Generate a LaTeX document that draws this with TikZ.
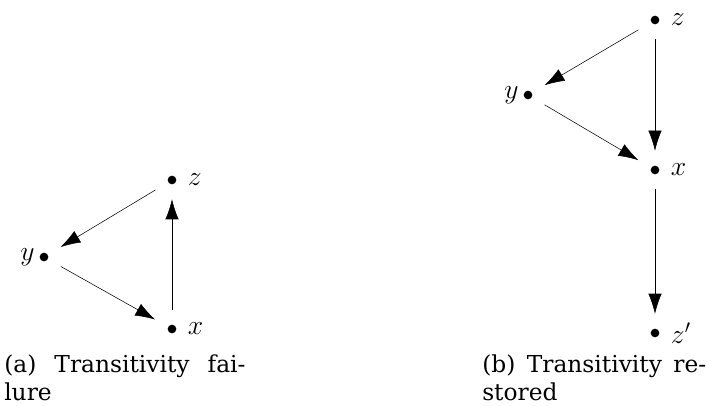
\documentclass[tikz,border=0pt]{standalone}
\usepackage{tikz}
\usetikzlibrary{arrows.meta}
\usepackage{amsmath}
\usepackage{fontspec}
\newfontfamily\captfont{DejaVu Serif}

\begin{document}
\begin{tikzpicture}[x=0.75pt, y=-0.75pt, font=\fontsize{20}{24}\selectfont,
    dot/.style={circle, fill, inner sep=0pt, minimum size=6.5pt},
    arr/.style={-{Latex[length=15pt,width=10pt]}, shorten <=11pt, shorten >=11pt},
    capt/.style={anchor=north west, align=left, inner sep=0pt, font=\captfont\fontsize{17.5}{21}\selectfont}]
    \useasboundingbox (0,0) rectangle (707,406);

    % (a) failure
    \node[dot, label={[label distance=5pt]right:$z$}] (za) at (172,180) {};
    \node[dot, label={[label distance=0pt]left:$y$}] (ya) at (44,257) {};
    \node[dot, label={[label distance=5pt]right:$x$}] (xa) at (172,329) {};

    \draw[arr] (za) -- (ya);
    \draw[arr] (ya) -- (xa);
    \draw[arr] (xa) -- (za);

    % (b) restored
    \node[dot, label={[label distance=5pt]right:$z$}] (zb) at (655,20) {};
    \node[dot, label={[label distance=0pt]left:$y$}] (yb) at (528,95) {};
    \node[dot, label={[label distance=5pt]right:$x$}] (xb) at (655,170) {};
    \node[dot, label={[label distance=5pt]right:$z'$}] (zpb) at (655,333) {};

    \draw[arr] (zb) -- (yb);
    \draw[arr] (yb) -- (xb);
    \draw[arr] (zb) -- (xb);
    \draw[arr] (xb) -- (zpb);

    % captions
    \node[capt, text width=181pt] (capa) at (4,355) {(a)\hfill Transitivity\hfill fai-\\lure};
    \node[capt, text width=168pt] (capb) at (482,355) {(b)\hfill Transitivity\hfill re-\\stored};
\end{tikzpicture}
\end{document}
